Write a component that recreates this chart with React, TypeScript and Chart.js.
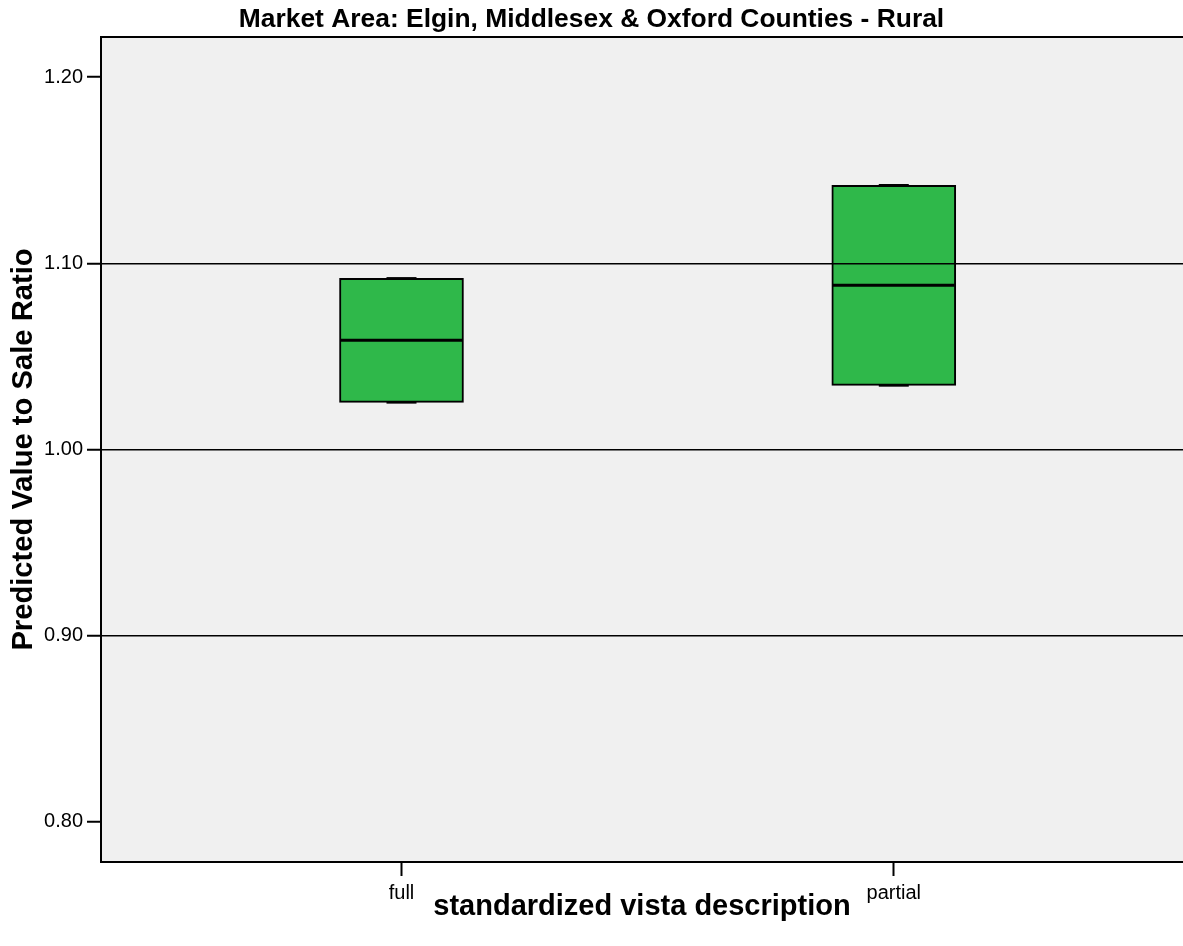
import React, { useEffect, useRef } from 'react';
import { Chart, registerables } from 'chart.js';

Chart.register(...registerables);

// ---- data ----
const categories = ['full', 'partial'];
const q1 = [1.0253, 1.0344];
const median = [1.0586, 1.0882];
const q3 = [1.0919, 1.1419];
const whiskerLow = [1.0253, 1.0344];
const whiskerHigh = [1.0919, 1.1419];
const yTicks = [0.8, 0.9, 1.0, 1.1, 1.2];
const gridValues = [0.9, 1.0, 1.1];

const titleText = 'Market Area: Elgin, Middlesex & Oxford Counties - Rural';
const xTitle = 'standardized vista description';
const yTitle = 'Predicted Value to Sale Ratio';

const FONT = "'Liberation Sans', Arial, Helvetica, sans-serif";
const BOX_WIDTH = 124;
const CAP_WIDTH = 30;
const BOX_COLOR = 'rgb(47,184,74)';

const plotBgPlugin = {
  id: 'plotBg',
  beforeDraw(chart: any) {
    const { ctx, chartArea } = chart;
    const { left, top, right, bottom } = chartArea;
    ctx.save();
    ctx.fillStyle = '#f0f0f0';
    ctx.fillRect(left, top, right - left, bottom - top);
    ctx.restore();
  },
  afterDraw(chart: any) {
    const { ctx, chartArea } = chart;
    const { left, top, right } = chartArea;
    ctx.save();
    ctx.strokeStyle = '#000';
    ctx.lineWidth = 2;
    ctx.beginPath();
    ctx.moveTo(left - 1, top);
    ctx.lineTo(right, top);
    ctx.stroke();
    ctx.restore();
  },
};

const boxPlugin = {
  id: 'boxExtras',
  afterDatasetsDraw(chart: any) {
    const { ctx } = chart;
    const xs = chart.scales.x;
    const ys = chart.scales.y;
    ctx.save();
    ctx.strokeStyle = '#000';
    categories.forEach((_, i) => {
      const cx = xs.getPixelForValue(i);
      // median
      const ym = ys.getPixelForValue(median[i]);
      ctx.lineWidth = 3;
      ctx.beginPath();
      ctx.moveTo(cx - BOX_WIDTH / 2 + 1, ym);
      ctx.lineTo(cx + BOX_WIDTH / 2 - 1, ym);
      ctx.stroke();
      // whisker caps
      ctx.lineWidth = 2.5;
      [whiskerLow[i], whiskerHigh[i]].forEach((v) => {
        const yy = ys.getPixelForValue(v);
        ctx.beginPath();
        ctx.moveTo(cx - CAP_WIDTH / 2, yy);
        ctx.lineTo(cx + CAP_WIDTH / 2, yy);
        ctx.stroke();
      });
    });
    ctx.restore();
  },
};

export default function App() {
  const ref = useRef<HTMLCanvasElement | null>(null);

  useEffect(() => {
    if (!ref.current) return;
    const chart = new Chart(ref.current, {
      type: 'bar',
      data: {
        datasets: [
          {
            data: categories.map((_, i) => ({ x: i, y: [q1[i], q3[i]] })) as any,
            backgroundColor: BOX_COLOR,
            borderColor: '#000',
            borderWidth: 2,
            borderSkipped: false,
            barThickness: BOX_WIDTH,
          } as any,
        ],
      },
      options: {
        animation: false,
        responsive: false,
        layout: { padding: 0 },
        plugins: {
          legend: { display: false },
          tooltip: { enabled: false },
          title: {
            display: true,
            text: titleText,
            color: '#000',
            font: { family: FONT, size: 26.4, weight: 'bold' },
            padding: { top: 4, bottom: 1.3 },
          },
        },
        scales: {
          x: {
            type: 'linear',
            offset: false,
            min: -0.6104,
            max: 1.5875,
            afterBuildTicks: (s: any) => {
              s.ticks = categories.map((_, i) => ({ value: i }));
            },
            afterFit: (s: any) => {
              s.height = 84;
            },
            ticks: {
              callback: (v: any) => categories[Number(v)] ?? '',
              color: '#000',
              font: { family: FONT, size: 20 },
              padding: 5,
              maxRotation: 0,
              autoSkip: false,
            },
            grid: {
              offset: false,
              drawOnChartArea: false,
              tickLength: 14,
              tickWidth: 2,
              tickColor: '#000',
            },
            border: { display: true, color: '#000', width: 2 },
            title: {
              display: true,
              text: xTitle,
              color: '#000',
              font: { family: FONT, size: 29, weight: 'bold' },
              padding: { top: 0, bottom: 21.6 },
            },
          },
          y: {
            type: 'linear',
            min: 0.7785,
            max: 1.2215,
            afterBuildTicks: (s: any) => {
              s.ticks = yTicks.map((v) => ({ value: v }));
            },
            afterFit: (s: any) => {
              s.width = 101;
            },
            ticks: {
              callback: (v: any) => Number(v).toFixed(2),
              color: '#000',
              font: { family: FONT, size: 20 },
              padding: 4,
              autoSkip: false,
            },
            grid: {
              z: 1,
              color: (ctx: any) =>
                ctx.tick && gridValues.some((g) => Math.abs(g - ctx.tick.value) < 1e-6)
                  ? '#000'
                  : 'rgba(0,0,0,0)',
              lineWidth: 1.5,
              tickLength: 14,
              tickWidth: 2,
              tickColor: '#000',
            },
            border: { display: true, color: '#000', width: 2, z: 2 },
            title: {
              display: true,
              text: yTitle,
              color: '#000',
              font: { family: FONT, size: 29.2, weight: 'bold' },
              padding: { top: 6, bottom: 0 },
            },
          },
        },
      } as any,
      plugins: [plotBgPlugin, boxPlugin],
    });
    return () => chart.destroy();
  }, []);

  return (
    <div style={{ position: 'absolute', left: 0, top: 0, width: 1183, height: 946, background: '#fff' }}>
      <canvas ref={ref} width={1183} height={946} style={{ display: 'block' }} />
    </div>
  );
}
